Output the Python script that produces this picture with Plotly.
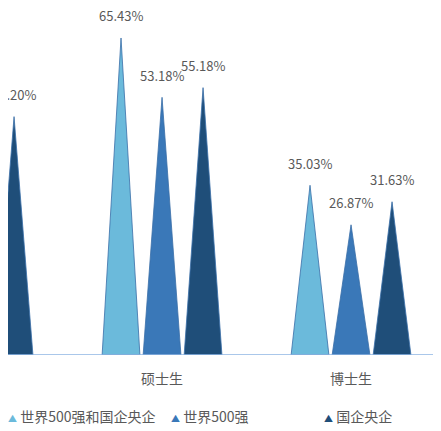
import plotly.graph_objects as go

categories = ["本科生", "硕士生", "博士生"]
series_names = ["世界500强和国企央企", "世界500强", "国企央企"]
s1 = [58.00, 65.43, 35.03]
s2 = [45.00, 53.18, 26.87]
s3 = [49.20, 55.18, 31.63]
colors = ["#6BBADB", "#3A78B8", "#1F4E79"]

offsets = [-0.217, 0.0, 0.217]
half_w = 0.1

fig = go.Figure()
for vals, off, col in zip([s1, s2, s3], offsets, colors):
    for i, v in enumerate(vals):
        c = i + off
        fig.add_trace(go.Scatter(
            x=[c - half_w, c, c + half_w, c - half_w],
            y=[0, v, 0, 0], mode="lines", fill="toself",
            fillcolor=col, line=dict(color="#3A6FA8", width=0.8),
            showlegend=False, hoverinfo="skip"))
        fig.add_annotation(x=c, y=v, text=f"{v:.2f}%", showarrow=False,
                           yshift=22, font=dict(size=13, color="#595959"))

for i, cat in enumerate(categories):
    fig.add_annotation(x=i, y=0, text=cat, showarrow=False, yshift=-23,
                       font=dict(size=14, color="#595959"))

legend_x = [-0.005, 0.372, 0.725]
for name, col, lx in zip(series_names, colors, legend_x):
    fig.add_annotation(xref="paper", yref="paper", x=lx, y=-0.176,
                       xanchor="left", yanchor="middle", showarrow=False,
                       text=f"<span style='color:{col};font-size:9px'>▲</span> {name}",
                       font=dict(size=14, color="#595959"))

fig.update_layout(
    width=433, height=423, margin=dict(l=0, r=0, t=0, b=76),
    plot_bgcolor="white", paper_bgcolor="white",
    font=dict(family="Noto Sans CJK SC"),
    xaxis=dict(range=[0.185, 2.476], visible=False, fixedrange=True),
    yaxis=dict(range=[0, 71.62], visible=False),
    shapes=[dict(type="line", xref="paper", yref="y", x0=0, x1=1, y0=0, y1=0,
                 line=dict(color="#8EB4E3", width=1.5))],
)
fig.write_html("out.html")
